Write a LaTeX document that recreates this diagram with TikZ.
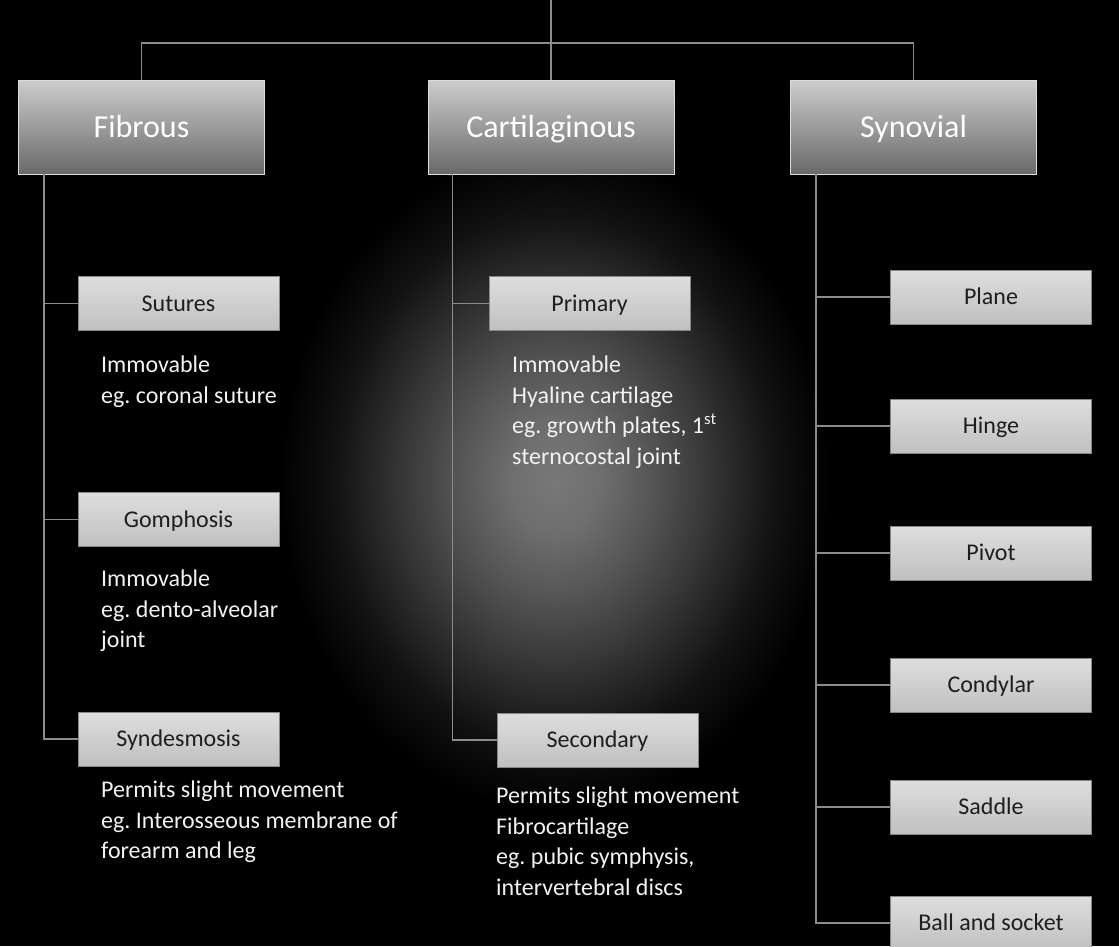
\documentclass[tikz,border=0pt]{standalone}
\usepackage{fontspec}
\setmainfont{Carlito}
\usetikzlibrary{calc}

\definecolor{glowc}{RGB}{120,120,120}
\definecolor{linec}{RGB}{140,140,140}
\definecolor{bigtop}{RGB}{205,205,205}
\definecolor{bigbot}{RGB}{105,105,105}
\definecolor{smalltop}{RGB}{222,222,222}
\definecolor{smallbot}{RGB}{192,192,192}
\definecolor{deftext}{RGB}{242,242,242}
\definecolor{boxtext}{RGB}{30,30,30}

% soft glow behind the middle column
\pgfdeclareradialshading{glow}{\pgfpoint{0bp}{0bp}}{%
  color(0bp)=(glowc); color(4bp)=(glowc!92!black); color(9bp)=(glowc!70!black);
  color(15bp)=(glowc!40!black); color(20bp)=(glowc!15!black);
  color(25bp)=(black); color(50bp)=(black)}

\tikzset{
  typebox/.style={rectangle, draw=bigtop!70!white, line width=0.8pt,
    top color=bigtop, bottom color=bigbot, minimum width=246pt, minimum height=94pt,
    text=white, font=\fontsize{32}{38}\selectfont, inner sep=0pt,
    text height=24pt, text depth=4pt},
  subbox/.style={rectangle, draw=smallbot!70!black, line width=0.8pt,
    top color=smalltop, bottom color=smallbot, minimum width=201pt, minimum height=54pt,
    text=boxtext, font=\fontsize{24}{29}\selectfont, inner sep=0pt,
    text height=18pt, text depth=3pt},
  desc/.style={anchor=north west, inner sep=0pt, align=left, text=deftext,
    font=\fontsize{24}{30.5}\selectfont},
  link/.style={draw=linec, line width=1.5pt}
}

\begin{document}
\frenchspacing
\begin{tikzpicture}[x=1pt,y=-1pt]
  \useasboundingbox (0,0) rectangle (1119,946);
  \fill[black] (0,0) rectangle (1119,946);
  \shade[shading=glow] (555,480) ellipse (275 and 330);

  % joint classes
  \node[typebox] (fib)  at (141.5,127) {Fibrous};
  \node[typebox] (cart) at (551,127)   {Cartilaginous};
  \node[typebox] (syn)  at (913.5,127) {Synovial};

  % fibrous joints
  \node[subbox] (sut) at (178.5,303.5) {Sutures};
  \node[subbox] (gom) at (178.5,519.5) {Gomphosis};
  \node[subbox] (syd) at (178.5,739)   {Syndesmosis};

  % cartilaginous joints
  \node[subbox] (pri) at (589.5,303.5) {Primary};
  \node[subbox] (sec) at (597.5,740)   {Secondary};

  % synovial joints
  \node[subbox] (pla) at (991,297) {Plane};
  \node[subbox] (hin) at (991,426) {Hinge};
  \node[subbox] (piv) at (991,553) {Pivot};
  \node[subbox] (con) at (991,685) {Condylar};
  \node[subbox] (sad) at (991,807) {Saddle};
  \node[subbox] (bal) at (991,923) {Ball and socket};

  % descriptions
  \node[desc] (dsut) at (101,356) {Immovable\\eg. coronal suture};
  \node[desc] (dgom) at (101,570) {Immovable\\eg. dento-alveolar\\joint};
  \node[desc] (dsyd) at (101,781) {Permits slight movement\\eg. Interosseous membrane of\\forearm and leg};
  \node[desc] (dpri) at (512,356) {Immovable\\Hyaline cartilage\\eg. growth plates, 1\textsuperscript{st}\\sternocostal joint};
  \node[desc] (dsec) at (496,787) {Permits slight movement\\Fibrocartilage\\eg. pubic symphysis,\\intervertebral discs};

  % top of the tree
  \coordinate (root) at (551,0);
  \coordinate (bar)  at (551,43);
  \draw[link] (root) -- (cart.north);
  \draw[link] (fib.north) |- (bar) -| (syn.north);

  % trunks below each class
  \coordinate (tf) at ($(fib.south west)+(26,0)$);
  \coordinate (tc) at ($(cart.south west)+(25,0)$);
  \coordinate (ts) at ($(syn.south west)+(26,0)$);

  \draw[link] (tf) |- (syd.west);
  \draw[link] (tf |- sut.west) -- (sut.west);
  \draw[link] (tf |- gom.west) -- (gom.west);

  \draw[link] (tc) |- (sec.west);
  \draw[link] (tc |- pri.west) -- (pri.west);

  \draw[link] (ts) |- (bal.west);
  \foreach \n in {pla,hin,piv,con,sad}
    \draw[link] (ts |- \n.west) -- (\n.west);
\end{tikzpicture}
\end{document}
